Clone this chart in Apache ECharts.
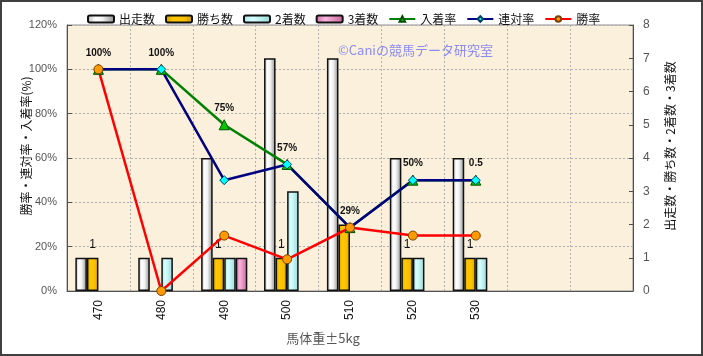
<!DOCTYPE html>
<html><head><meta charset="utf-8">
<script src="https://cdn.jsdelivr.net/npm/echarts@6/dist/echarts.min.js"></script>
<style>html,body{margin:0;padding:0;background:#fff}#c{width:703px;height:356px}</style>
</head><body><div id="c"></div>
<script>
// ---- data ----
const categories = ['470','480','490','500','510','520','530','',''];
const starts   = [1, 1, 4, 7, 7, 4, 4, null, null];   // 出走数
const wins     = [1, 0, 1, 1, 2, 1, 1, null, null];   // 勝ち数
const seconds  = [0, 1, 1, 3, 0, 1, 1, null, null];   // 2着数
const thirds   = [0, 0, 1, 0, 0, 0, 0, null, null];   // 3着数
const placeRate    = [1, 1, 0.75, 0.571, 0.286, 0.5, 0.5, null, null]; // 入着率
const quinellaRate = [1, 1, 0.5, 0.571, 0.286, 0.5, 0.5, null, null];  // 連対率
const winRate      = [1, 0, 0.25, 0.143, 0.286, 0.25, 0.25, null, null]; // 勝率
const rateLabels = ['100%','100%','75%','57%','29%','50%','0.5','',''];
const winLabels  = ['1','','1','1','','1','1','',''];
const leftTicks = { min: 0, max: 1.2, interval: 0.2 };
const rightTicks = { min: 0, max: 8, interval: 1 };

const FONT = '"Liberation Sans", "Noto Sans CJK JP", sans-serif';
const JP = '"Noto Sans CJK JP", "Liberation Sans", sans-serif';
const G = echarts.graphic.LinearGradient;
const grad = (stops) => new G(0, 0, 1, 0, stops.map(c => ({ offset: c[0], color: c[1] })));
// zero counts are not drawn as bars
const bars = arr => arr.map(v => (v === 0 ? '-' : v));

const barBase = {
  type: 'bar', yAxisIndex: 1, barGap: '0%', barCategoryGap: '26.6%',
};
const chart = echarts.init(document.getElementById('c'), null, { renderer: 'canvas' });
chart.setOption({
  animation: false,
  backgroundColor: '#ffffff',
  textStyle: { fontFamily: FONT },
  legend: {
    left: 82, top: 8, itemWidth: 26, itemHeight: 7, itemGap: 10,
    textStyle: { fontFamily: JP, fontSize: 12, color: '#111' },
    data: ['出走数','勝ち数','2着数','3着数','入着率','連対率','勝率']
  },
  grid: {
    left: 67, right: 70, top: 25, bottom: 65, show: true,
    backgroundColor: '#faf0dc', borderColor: '#909090', borderWidth: 1
  },
  xAxis: {
    type: 'category', data: categories, boundaryGap: true,
    name: '馬体重±5kg', nameLocation: 'middle', nameGap: 41, nameMoveOverlap: false,
    nameTextStyle: { fontFamily: JP, fontSize: 13, color: '#555', padding: [0, 54, 0, 0] },
    axisLine: { lineStyle: { color: '#505050', width: 1 } },
    axisTick: { show: false },
    axisLabel: { rotate: 90, margin: 9, fontSize: 12, color: '#111', fontFamily: FONT },
    splitLine: { show: true, lineStyle: { color: '#b0b0b0', type: [2, 2], width: 1 } }
  },
  yAxis: [{
    type: 'value', position: 'left', ...leftTicks,
    name: '勝率・連対率・入着率(%)', nameLocation: 'middle', nameRotate: 90, nameGap: 35,
    nameMoveOverlap: false,
    nameTextStyle: { fontFamily: JP, fontSize: 12, color: '#111', padding: [0, 0, 0, 24] },
    axisLine: { show: true, lineStyle: { color: '#505050' } },
    axisTick: { show: true, inside: true, length: 5, lineStyle: { color: '#505050' } },
    axisLabel: { formatter: v => Math.round(v * 100) + '%', fontSize: 11, color: '#555', margin: 10 },
    splitLine: { show: true, lineStyle: { color: '#b0b0b0', type: [2, 2], width: 1 } }
  }, {
    type: 'value', position: 'right', ...rightTicks,
    name: '出走数・勝ち数・2着数・3着数', nameLocation: 'middle', nameRotate: 90, nameGap: 31,
    nameMoveOverlap: false,
    nameTextStyle: { fontFamily: JP, fontSize: 12, color: '#111', padding: [0, 0, 0, 24] },
    axisLine: { show: true, lineStyle: { color: '#505050' } },
    axisTick: { show: true, inside: true, length: 4, lineStyle: { color: '#505050' } },
    axisLabel: { fontSize: 12, color: '#555', margin: 10 },
    splitLine: { show: false }
  }],
  series: [
    { ...barBase, name: '出走数', data: bars(starts),
      itemStyle: { color: grad([[0,'#b4b4b4'],[0.3,'#ffffff'],[0.55,'#f2f2f2'],[1,'#8c8c8c']]), borderColor: '#111', borderWidth: 1.5 } },
    { ...barBase, name: '勝ち数', data: bars(wins),
      itemStyle: { color: grad([[0,'#d09c00'],[0.3,'#ffc800'],[0.7,'#f8c000'],[1,'#c89400']]), borderColor: '#111', borderWidth: 1.5 },
      label: { show: true, position: 'top', distance: 7, fontSize: 12, color: '#111',
        formatter: p => winLabels[p.dataIndex] } },
    { ...barBase, name: '2着数', data: bars(seconds),
      itemStyle: { color: grad([[0,'#a8e6e6'],[0.35,'#d8ffff'],[1,'#98d8d8']]), borderColor: '#111', borderWidth: 1.5 } },
    { ...barBase, name: '3着数', data: bars(thirds),
      itemStyle: { color: grad([[0,'#d070a8'],[0.35,'#f8b4dc'],[1,'#c86498']]), borderColor: '#111', borderWidth: 1.5 } },
    { type: 'line', name: '入着率', yAxisIndex: 0, data: placeRate,
      symbol: 'triangle', symbolSize: 10,
      lineStyle: { color: '#008000', width: 2.5 },
      itemStyle: { color: '#00c800', borderColor: '#005000', borderWidth: 1 },
      label: { show: true, position: 'top', distance: 6, fontSize: 10, fontWeight: 'bold', color: '#111',
        formatter: p => rateLabels[p.dataIndex] } },
    { type: 'line', name: '連対率', yAxisIndex: 0, data: quinellaRate,
      symbol: 'diamond', symbolSize: 9,
      lineStyle: { color: '#000080', width: 2.5 },
      itemStyle: { color: '#00ffff', borderColor: '#004060', borderWidth: 1 } },
    { type: 'line', name: '勝率', yAxisIndex: 0, data: winRate,
      symbol: 'circle', symbolSize: 9,
      lineStyle: { color: '#ff0000', width: 2.5 },
      itemStyle: { color: '#ff9a00', borderColor: '#7a4000', borderWidth: 1 } }
  ],
  graphic: [
    { type: 'text', left: 338, top: 44, z: 100,
      style: { text: '©Caniの競馬データ研究室', fill: '#8c8cf0', font: '13px "Noto Sans CJK JP"' } },
    { type: 'rect', z: 100, silent: true,
      shape: { x: 1, y: 1, width: 701, height: 354 },
      style: { fill: null, stroke: '#404040', lineWidth: 2 } }
  ]
});
</script></body></html>
